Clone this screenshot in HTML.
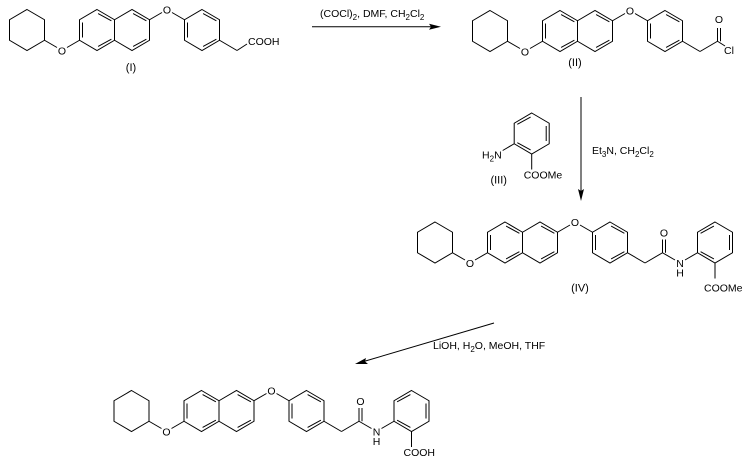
<!DOCTYPE html>
<html><head><meta charset="utf-8"><style>
html,body{margin:0;padding:0;background:#fff}
svg{display:block}
text{font-family:"Liberation Sans",Arial,sans-serif;fill:#000}
.a{font-size:10.5px}
.l{font-size:11px}
.r{font-size:10.5px}
</style></head><body>
<svg width="751" height="462" viewBox="0 0 751 462" xmlns="http://www.w3.org/2000/svg">
<defs>
<g id="core" stroke="#000" stroke-width="1" fill="none">
<polygon points="27,9.5 44.5,19.75 44.5,40.25 27,50.5 9.5,40.25 9.5,19.75"/>
<line x1="44.5" y1="40.25" x2="57" y2="47.5"/><line x1="67" y1="47.5" x2="79.5" y2="40.25"/>
<polygon points="97,9.5 114.5,19.75 114.5,40.25 97,50.5 79.5,40.25 79.5,19.75"/>
<polyline points="114.5,19.75 132,9.5 149.5,19.75 149.5,40.25 132,50.5 114.5,40.25"/>
<line x1="82.5" y1="22.5" x2="82.5" y2="37.5"/>
<line x1="98.1" y1="13.6" x2="111.4" y2="20.8"/><line x1="111.4" y1="39.2" x2="98.1" y2="46.4"/>
<line x1="133.1" y1="13.6" x2="146.4" y2="20.8"/><line x1="146.4" y1="39.2" x2="133.1" y2="46.4"/>
<line x1="149.5" y1="19.75" x2="162" y2="12.5"/><line x1="172" y1="12.5" x2="184.5" y2="19.75"/>
<polygon points="202,9.5 219.5,19.75 219.5,40.25 202,50.5 184.5,40.25 184.5,19.75"/>
<line x1="187.5" y1="22.5" x2="187.5" y2="37.5"/>
<line x1="203.1" y1="13.6" x2="216.4" y2="20.8"/><line x1="216.4" y1="39.2" x2="203.1" y2="46.4"/>
<line x1="219.5" y1="40.25" x2="237" y2="50.5"/>
</g>
<g id="benz" stroke="#000" stroke-width="1" fill="none">
<polygon points="307,9.5 324.5,19.75 324.5,40.25 307,50.5 289.5,40.25 289.5,19.75"/>
<line x1="292.6" y1="20.8" x2="305.9" y2="13.6"/>
<line x1="321.5" y1="22.5" x2="321.5" y2="37.5"/>
<line x1="305.9" y1="46.4" x2="292.6" y2="39.2"/>
<line x1="307" y1="50.5" x2="307" y2="66"/>
</g>
<g id="amide" stroke="#000" stroke-width="1" fill="none">
<line x1="237" y1="50.5" x2="254.5" y2="40.25"/>
<line x1="254.5" y1="40.25" x2="254.5" y2="27"/><line x1="257.5" y1="40.25" x2="257.5" y2="27"/>
<line x1="254.5" y1="40.25" x2="267" y2="47.5"/><line x1="277" y1="47.5" x2="289.5" y2="40.25"/>
</g>
</defs>

<!-- I -->
<g>
<use href="#core"/>
<line x1="237" y1="50.5" x2="247" y2="44" stroke="#000"/>
<text class="a" x="62" y="54.5" text-anchor="middle">O</text>
<text class="a" x="167" y="13.5" text-anchor="middle">O</text>
<text class="a" x="248" y="45">COOH</text>
<text class="l" x="131" y="71" text-anchor="middle">(I)</text>
</g>

<!-- arrow 1 -->
<line x1="312" y1="26.7" x2="434" y2="26.7" stroke="#000"/>
<polygon points="441,26.7 429,23.7 431,26.7 429,29.7" fill="#000"/>
<text class="r" x="320" y="17">(COCl)<tspan dy="3" font-size="8">2</tspan><tspan dy="-3">, DMF, CH</tspan><tspan dy="3" font-size="8">2</tspan><tspan dy="-3">Cl</tspan><tspan dy="3" font-size="8">2</tspan></text>

<!-- II -->
<g transform="translate(463,1)">
<use href="#core"/>
<g stroke="#000" fill="none">
<line x1="237" y1="50.5" x2="254.5" y2="40.25"/>
<line x1="254.5" y1="40.25" x2="254.5" y2="27"/><line x1="257.5" y1="40.25" x2="257.5" y2="27"/>
<line x1="254.5" y1="40.25" x2="262" y2="45"/>
</g>
<text class="a" x="62" y="54.5" text-anchor="middle">O</text>
<text class="a" x="167" y="13.5" text-anchor="middle">O</text>
<text class="a" x="256" y="22" text-anchor="middle">O</text>
<text class="a" x="261" y="53">Cl</text>
<text class="l" x="112" y="65" text-anchor="middle">(II)</text>
</g>

<!-- vertical arrow -->
<line x1="581" y1="97" x2="581" y2="194" stroke="#000"/>
<polygon points="581,201 578,189 581,191 584,189" fill="#000"/>
<text class="r" x="592" y="154">Et<tspan dy="3" font-size="8">3</tspan><tspan dy="-3">N, CH</tspan><tspan dy="3" font-size="8">2</tspan><tspan dy="-3">Cl</tspan><tspan dy="3" font-size="8">2</tspan></text>

<!-- III -->
<g transform="translate(224.7,103.5)">
<use href="#benz"/>
<line x1="289.5" y1="40.25" x2="278" y2="47" stroke="#000"/>
<text class="a" x="277" y="55" text-anchor="end">H<tspan dy="3" font-size="8">2</tspan><tspan dy="-3">N</tspan></text>
<text class="a" x="299" y="75">COOMe</text>
<text class="l" x="274" y="80" text-anchor="middle">(III)</text>
</g>

<!-- IV -->
<g transform="translate(408,212.5)">
<use href="#core"/>
<use href="#amide"/>
<use href="#benz"/>
<text class="a" x="62" y="54.5" text-anchor="middle">O</text>
<text class="a" x="167" y="13.5" text-anchor="middle">O</text>
<text class="a" x="256" y="24" text-anchor="middle">O</text>
<text class="a" x="272" y="54.5" text-anchor="middle">N</text>
<text class="a" x="272" y="64" text-anchor="middle">H</text>
<text class="a" x="296" y="79">COOMe</text>
<text class="l" x="172" y="79" text-anchor="middle">(IV)</text>
</g>

<!-- diagonal arrow -->
<line x1="494" y1="323" x2="362" y2="362" stroke="#000"/>
<polygon points="355,364 366,358 365,361.5 368,364" fill="#000"/>
<text class="r" x="433" y="349">LiOH, H<tspan dy="3" font-size="8">2</tspan><tspan dy="-3">O, MeOH, THF</tspan></text>

<!-- V -->
<g transform="translate(104.5,381)">
<use href="#core"/>
<use href="#amide"/>
<use href="#benz"/>
<text class="a" x="62" y="54.5" text-anchor="middle">O</text>
<text class="a" x="167" y="13.5" text-anchor="middle">O</text>
<text class="a" x="256" y="24" text-anchor="middle">O</text>
<text class="a" x="272" y="54.5" text-anchor="middle">N</text>
<text class="a" x="272" y="64" text-anchor="middle">H</text>
<text class="a" x="299" y="75">COOH</text>
</g>
</svg>
</body></html>
